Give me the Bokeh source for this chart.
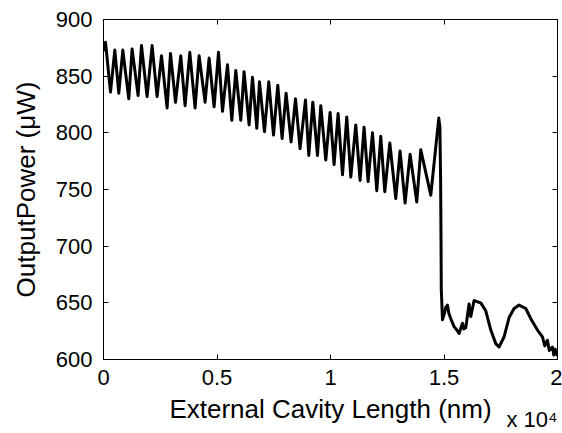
from bokeh.plotting import figure
from bokeh.models import LinearAxis, FixedTicker, Range1d, Title
from bokeh.embed import file_html
from bokeh.resources import INLINE

# ---- data (nm, microwatt) ----
start_x = [0]
start_y = [872]

peak_x = [88, 498, 850, 1260, 1674, 2141, 2555, 2951, 3405, 3802, 4211, 4652, 5066,
          5462, 5828, 6193, 6563, 6872, 7282, 7678, 8044, 8458, 8898, 9220, 9572,
          9982, 10334, 10717, 11114, 11479, 11849, 12215, 12612, 13065, 13506,
          13977, 14770]
peak_y = [880, 873, 873, 874, 877, 877, 868, 870, 868, 871, 868, 866, 871,
          860, 855, 854, 849, 845, 845, 842, 835, 830, 829, 827, 824,
          818, 817, 814, 807, 805, 800, 797, 791, 784, 781,
          785, 813]

trough_x = [308, 674, 1114, 1524, 1921, 2361, 2802, 3172, 3594, 4035, 4476, 4872,
            5242, 5652, 6048, 6414, 6753, 7092, 7489, 7867, 8264, 8660, 9044,
            9427, 9792, 10158, 10528, 10894, 11303, 11656, 12039, 12391, 12876,
            13285, 13801, 14418]
trough_y = [836, 835, 830, 833, 832, 832, 822, 827, 824, 822, 827, 823,
            819, 811, 811, 807, 804, 801, 798, 795, 792, 786, 780,
            780, 776, 772, 763, 761, 758, 757, 749, 748, 742,
            738, 739, 745]

tail_x = [14820, 14850, 14870, 14880, 14933, 15012, 15078, 15153, 15211, 15299,
          15444, 15563, 15664, 15814, 15871, 15959, 16105, 16180, 16254, 16325,
          16466, 16620, 16840, 17061, 17281, 17426, 17647, 17867, 18087, 18307,
          18602, 18823, 19118, 19338, 19440, 19558, 19637, 19778, 19836, 19902,
          19990]
tail_y = [805, 760, 700, 662, 635, 640, 646, 648, 641, 636,
          629, 626, 623, 632, 627, 628, 649, 638, 645, 652,
          651, 650, 643, 626, 614, 611, 620, 637, 645, 648,
          645, 636, 626, 620, 612, 617, 608, 611, 604, 609,
          603]

x_ticks = [0, 5000, 10000, 15000, 20000]
x_tick_labels = ["0", "0.5", "1", "1.5", "2"]
y_ticks = [600, 650, 700, 750, 800, 850, 900]
x_multiplier = "x 10\u2074"

xs = list(start_x)
ys = list(start_y)
for i in range(len(peak_x)):
    xs.append(peak_x[i]); ys.append(peak_y[i])
    if i < len(trough_x):
        xs.append(trough_x[i]); ys.append(trough_y[i])
xs += tail_x
ys += tail_y

FONT = "Liberation Sans"

p = figure(width=562, height=433, output_backend="svg", toolbar_location=None,
           x_range=Range1d(0, 20000), y_range=Range1d(600, 900),
           min_border_left=103, min_border_right=5, min_border_top=19,
           min_border_bottom=74, background_fill_color="white",
           border_fill_color="white")
p.grid.visible = False
p.outline_line_color = "black"
p.outline_line_width = 1

p.line(xs, ys, line_color="black", line_width=3, line_join="round")

def style(ax, labels=True):
    ax.major_tick_in = 5
    ax.major_tick_out = 0
    ax.minor_tick_in = 0
    ax.minor_tick_out = 0
    ax.axis_line_color = "black"
    ax.major_tick_line_color = "black"
    ax.major_label_text_color = "black"
    ax.major_label_text_font = FONT
    if labels:
        ax.major_label_text_font_size = "22px"
    else:
        ax.major_label_text_font_size = "0px"
        ax.major_label_standoff = 0

xa = p.xaxis[0]
xa.ticker = FixedTicker(ticks=x_ticks)
xa.major_label_overrides = {t: l for t, l in zip(x_ticks, x_tick_labels)}
style(xa)
xa.major_label_standoff = 10
xa.axis_label = "External Cavity Length (nm)"
xa.axis_label_text_font = FONT
xa.axis_label_text_font_size = "26px"
xa.axis_label_text_font_style = "normal"
xa.axis_label_text_color = "black"
xa.axis_label_standoff = 6

ya = p.yaxis[0]
ya.ticker = FixedTicker(ticks=y_ticks)
style(ya)
ya.major_label_standoff = 11
ya.axis_label = "OutputPower (\u03bcW)"
ya.axis_label_text_font = FONT
ya.axis_label_text_font_size = "26px"
ya.axis_label_text_font_style = "normal"
ya.axis_label_text_color = "black"
ya.axis_label_standoff = 12

top = LinearAxis(ticker=FixedTicker(ticks=x_ticks))
style(top, labels=False)
p.add_layout(top, "above")
right = LinearAxis(ticker=FixedTicker(ticks=y_ticks))
style(right, labels=False)
p.add_layout(right, "right")

# exponent text under the right end of the x axis
t = Title(text=x_multiplier, align="right", vertical_align="top",
          text_font=FONT, text_font_size="22px", text_font_style="normal",
          text_color="black", standoff=-40)
p.add_layout(t, "below")

open("out.html", "w").write(file_html(p, INLINE))
